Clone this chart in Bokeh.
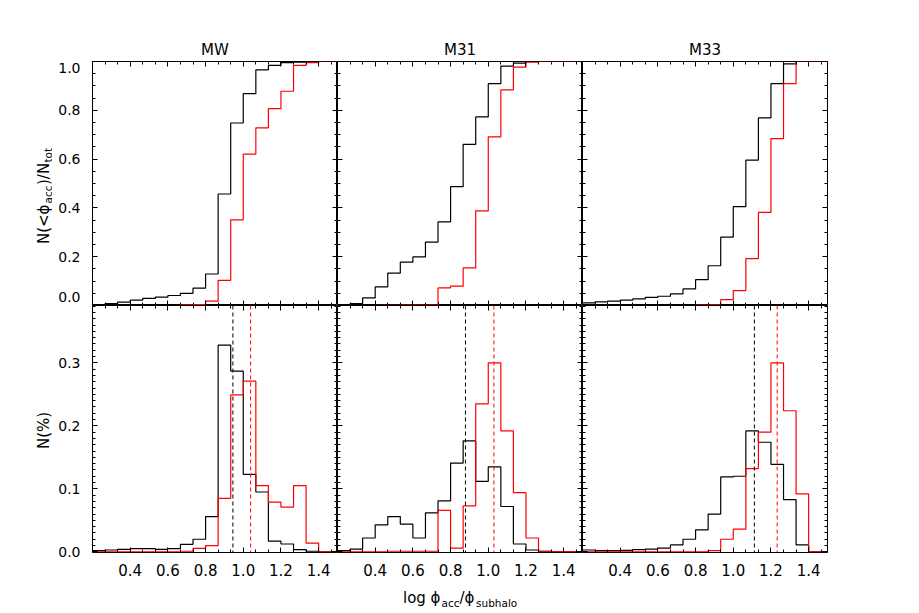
import numpy as np
from bokeh.plotting import figure
from bokeh.layouts import gridplot
from bokeh.models import LinearAxis, FixedTicker, Range1d, Span, NumeralTickFormatter, CustomJSTickFormatter
from bokeh.core.properties import value
from bokeh.embed import file_html
from bokeh.resources import INLINE

# ---------------- data ----------------
galaxies = ["MW", "M31", "M33"]
bin_edges = list(np.round(np.linspace(0.2, 1.2 + 1 / 3, 21), 4))  # 20 bins of width 1/15

# cumulative fractions N(<phi_acc)/N_tot (top row)
mw_cum_black = [0.004, 0.008, 0.014, 0.022, 0.029, 0.034, 0.041, 0.050, 0.071, 0.129,
                0.457, 0.748, 0.868, 0.966, 0.984, 0.995, 0.997, 1.0, 1.0, 1.0]
mw_cum_red = [0, 0, 0, 0, 0, 0, 0, 0.003, 0.004, 0.018,
              0.103, 0.351, 0.620, 0.728, 0.807, 0.878, 0.984, 0.995, 1.0, 1.0]
m31_cum_black = [0.003, 0.008, 0.031, 0.076, 0.133, 0.178, 0.199, 0.260, 0.343, 0.487,
                 0.660, 0.773, 0.909, 0.981, 0.993, 1.0, 1.0, 1.0, 1.0, 1.0]
m31_cum_red = [0, 0, 0, 0.001, 0.001, 0.002, 0.002, 0.002, 0.072, 0.079,
               0.154, 0.388, 0.691, 0.884, 0.977, 0.997, 1.0, 1.0, 1.0, 1.0]
m33_cum_black = [0.011, 0.015, 0.018, 0.022, 0.027, 0.033, 0.038, 0.048, 0.068, 0.106,
                 0.163, 0.280, 0.405, 0.596, 0.769, 0.909, 0.990, 1.0, 1.0, 1.0]
m33_cum_red = [0, 0, 0, 0, 0, 0, 0, 0, 0, 0.002,
               0.003, 0.024, 0.061, 0.192, 0.382, 0.684, 0.909, 1.0, 1.0, 1.0]

# differential fractions N(%) (bottom row)
mw_dif_black = [0.002, 0.003, 0.004, 0.005, 0.005, 0.004, 0.005, 0.012, 0.020, 0.056,
                0.328, 0.287, 0.123, 0.095, 0.017, 0.0125, 0.0035, 0.001, 0, 0]
mw_dif_red = [0, 0, 0, 0, 0, 0, 0, 0.001, 0.0056, 0.0098,
              0.085, 0.249, 0.271, 0.105, 0.079, 0.071, 0.105, 0.014, 0, 0]
m31_dif_black = [0.002, 0.0045, 0.022, 0.043, 0.056, 0.044, 0.022, 0.062, 0.081, 0.141,
                 0.176, 0.112, 0.135, 0.072, 0.0125, 0.003, 0.001, 0, 0, 0]
m31_dif_red = [0, 0, 0, 0, 0.001, 0.001, 0.001, 0.001, 0.066, 0.006,
               0.073, 0.235, 0.300, 0.192, 0.094, 0.022, 0.001, 0, 0, 0]
m33_dif_black = [0.003, 0.002, 0.002, 0.0024, 0.0035, 0.0045, 0.006, 0.011, 0.020, 0.035,
                 0.060, 0.119, 0.120, 0.192, 0.174, 0.139, 0.083, 0.011, 0, 0]
m33_dif_red = [0, 0, 0, 0, 0, 0, 0, 0, 0, 0,
               0.002, 0.020, 0.036, 0.132, 0.190, 0.300, 0.224, 0.092, 0, 0]

# medians (dashed lines)
median_black = [0.945, 0.879, 1.112]
median_red = [1.039, 1.030, 1.233]

x_ticks = [0.4, 0.6, 0.8, 1.0, 1.2, 1.4]
y_ticks_top = [0.0, 0.2, 0.4, 0.6, 0.8, 1.0]
y_ticks_bot = [0.0, 0.1, 0.2, 0.3]
# label placement of the top-left axis (IDL pulls the end labels inside the axis)
y_label_pos_top = [0.035, 0.2, 0.4, 0.6, 0.8, 0.975]
y_label_txt_top = ["0.0", "0.2", "0.4", "0.6", "0.8", "1.0"]

cum_black = [mw_cum_black, m31_cum_black, m33_cum_black]
cum_red = [mw_cum_red, m31_cum_red, m33_cum_red]
dif_black = [mw_dif_black, m31_dif_black, m33_dif_black]
dif_red = [mw_dif_red, m31_dif_red, m33_dif_red]

# ---------------- style / layout ----------------
FONT = "DejaVu Sans"
FRAME_W = 245
TOP_H, BOT_H = 244, 247
YLAB_W = 52          # strip holding the rotated y titles
LEFT_B = 40          # room for y tick labels
TOP_B, RIGHT_B, BOT_B = 61, 20, 30
XLAB_H = 31
X_RANGE = (0.2, 1.5)
Y_TOP = (0.0, 1.0)
Y_BOT = (-0.001, 0.391)

x_minor = list(np.linspace(0.2, 1.5333, 21))
y_minor_top = list(np.round(np.arange(0, 1.0001, 0.05), 3))
y_minor_bot = list(np.round(np.arange(0, 0.3901, 0.01), 3))


def style_ticks(ax):
    ax.major_tick_in = 5
    ax.major_tick_out = 0
    ax.minor_tick_in = 3
    ax.minor_tick_out = 0
    ax.axis_line_color = "black"
    ax.major_tick_line_color = "black"
    ax.minor_tick_line_color = "black"


def add_plain_axis(p, side, ticks, minor, fixed):
    ax = LinearAxis(ticker=FixedTicker(ticks=ticks, minor_ticks=minor))
    style_ticks(ax)
    ax.major_label_text_color = None
    ax.fixed_location = fixed
    p.add_layout(ax, side)


def add_label_axis(p, side, ticks, formatter, size, standoff):
    ax = LinearAxis(ticker=FixedTicker(ticks=ticks, minor_ticks=[]), formatter=formatter)
    ax.major_tick_in = 0
    ax.major_tick_out = 0
    ax.axis_line_color = None
    ax.major_label_text_font = FONT
    ax.major_label_text_font_size = size
    ax.major_label_text_color = "black"
    ax.major_label_standoff = standoff
    p.add_layout(ax, side)


def draw_step(p, vals, color):
    y = list(vals) + [vals[-1]]
    p.step(bin_edges, y, mode="after", line_color=color, line_width=1.2)


def blank_fig(w, h, xr, yr, **borders):
    f = figure(width=w, height=h, title=None, x_range=Range1d(*xr), y_range=Range1d(*yr),
               output_backend="svg", toolbar_location=None,
               x_axis_location=None, y_axis_location=None,
               min_border_left=borders.get("left", 0), min_border_right=borders.get("right", 0),
               min_border_top=borders.get("top", 0), min_border_bottom=borders.get("bottom", 0))
    f.xgrid.visible = False
    f.ygrid.visible = False
    f.outline_line_color = None
    f.border_fill_color = "white"
    f.background_fill_color = "white"
    return f


def put_text(f, x, y, txt, size, align="left", angle=0.0):
    f.text(x=[x], y=[y], text=[txt], angle=angle, text_align=value(align),
           text_baseline=value("alphabetic"), text_font=value(FONT),
           text_font_size=value(size), text_color="black")


top_fmt = CustomJSTickFormatter(args=dict(pos=y_label_pos_top, labs=y_label_txt_top), code="""
    for (let i = 0; i < pos.length; i++) { if (Math.abs(pos[i] - tick) < 1e-6) return labs[i]; }
    return '';
""")

panels = []
for row in range(2):
    line = []
    for col in range(3):
        w = FRAME_W + (LEFT_B if col == 0 else 0) + (RIGHT_B if col == 2 else 0)
        h = (TOP_H + TOP_B) if row == 0 else (BOT_H + BOT_B)
        yr = Y_TOP if row == 0 else Y_BOT
        p = figure(width=w, height=h, title=(galaxies[col] if row == 0 else None),
                   x_range=Range1d(*X_RANGE), y_range=Range1d(*yr),
                   output_backend="svg", toolbar_location=None,
                   x_axis_location=None, y_axis_location=None,
                   min_border_left=LEFT_B if col == 0 else 0,
                   min_border_right=RIGHT_B if col == 2 else 0,
                   min_border_top=TOP_B if row == 0 else 0,
                   min_border_bottom=BOT_B if row == 1 else 0)
        p.xgrid.visible = False
        p.ygrid.visible = False
        p.outline_line_color = "black"
        p.background_fill_color = "white"
        p.border_fill_color = "white"
        if row == 0:
            p.title.align = "center"
            p.title.text_font = FONT
            p.title.text_font_size = "15px"
            p.title.text_font_style = "normal"
            p.title.text_color = "black"
            p.title.standoff = 6

        yt = y_ticks_top if row == 0 else y_ticks_bot
        ym = y_minor_top if row == 0 else y_minor_bot
        add_plain_axis(p, "left", yt, ym, X_RANGE[0])
        add_plain_axis(p, "right", yt, ym, X_RANGE[1])
        add_plain_axis(p, "below", x_ticks, x_minor, yr[0])
        add_plain_axis(p, "above", x_ticks, x_minor, yr[1])
        if col == 0:
            if row == 0:
                add_label_axis(p, "left", y_label_pos_top, top_fmt, "14px", 12)
            else:
                add_label_axis(p, "left", y_ticks_bot, NumeralTickFormatter(format="0.0"), "14px", 12)
        if row == 1:
            add_label_axis(p, "below", x_ticks, NumeralTickFormatter(format="0.0"), "15px", 11)

        if row == 0:
            draw_step(p, cum_black[col], "black")
            draw_step(p, cum_red[col], "red")
        else:
            draw_step(p, dif_black[col], "black")
            draw_step(p, dif_red[col], "red")
            p.add_layout(Span(location=median_black[col], dimension="height",
                              line_color="black", line_dash="4 3", line_width=1))
            p.add_layout(Span(location=median_red[col], dimension="height",
                              line_color="red", line_dash="4 3", line_width=1))
        line.append(p)
    panels.append(line)

# strip with the rotated y-axis titles (pixel-like coordinates)
yl_top = blank_fig(YLAB_W, TOP_H + TOP_B, (0, YLAB_W), (0, TOP_H), top=TOP_B)
put_text(yl_top, 43, 101, "N(<\u03d5", "15px", "right", np.pi / 2)
put_text(yl_top, 47, 102, "acc", "10.5px", "left", np.pi / 2)
put_text(yl_top, 43, 120.5, ")/N", "15px", "left", np.pi / 2)
put_text(yl_top, 47, 143, "tot", "10.5px", "left", np.pi / 2)

yl_bot = blank_fig(YLAB_W, BOT_H + BOT_B, (0, YLAB_W), (0, BOT_H), bottom=BOT_B)
put_text(yl_bot, 43, 122, "N(%)", "15px", "center", np.pi / 2)

# x-axis title under the middle column
xl = blank_fig(FRAME_W, XLAB_H, (0, FRAME_W), (0, XLAB_H))
put_text(xl, 103, 16, "log \u03d5", "15px", "right")
put_text(xl, 104, 11, "acc", "10.5px", "left")
put_text(xl, 122, 16, "/\u03d5", "15px", "left")
put_text(xl, 138.5, 11, "subhalo", "10.5px", "left")

layout = gridplot([[yl_top] + panels[0],
                   [yl_bot] + panels[1],
                   [None, None, xl, None]], toolbar_location=None)

open("out.html", "w").write(file_html(layout, INLINE))
